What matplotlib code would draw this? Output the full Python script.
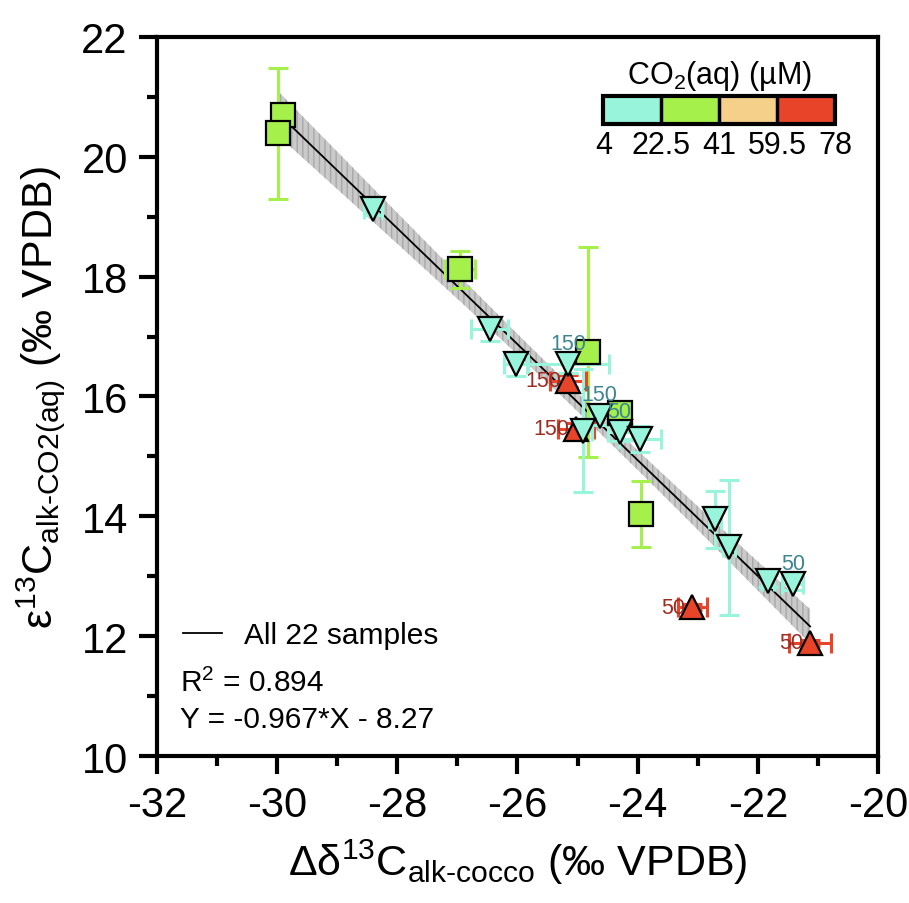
import matplotlib

matplotlib.use("Agg")
import matplotlib.pyplot as plt
import numpy as np
from matplotlib.colors import BoundaryNorm, ListedColormap
from matplotlib.ticker import MultipleLocator

plt.rcParams["font.family"] = ["Liberation Sans", "DejaVu Sans"]
plt.rcParams["mathtext.default"] = "regular"
plt.rcParams["axes.unicode_minus"] = False

# CO2(aq) bins
co2_bounds = [4, 22.5, 41, 59.5, 78]
co2_colors = ["#98F5DC", "#A6F04C", "#F5D08A", "#E8442A"]

# green squares (22.5-41 uM)
sq_x = [-29.91, -29.98, -26.96, -24.82, -24.30, -23.94]
sq_y = [20.70, 20.39, 18.12, 16.74, 15.73, 14.04]
sq_xerr = [0.05, 0.05, 0.25, 0.10, 0.10, 0.10]
sq_yerr = [0.05, 1.09, 0.31, 1.75, 0.10, 0.55]

# cyan down-triangles (4-22.5 uM)
tri_x = [-28.41, -26.46, -26.03, -25.16, -24.63, -24.91, -24.30, -23.96, -22.72, -22.48, -21.83, -21.42]
tri_y = [19.13, 17.13, 16.54, 16.54, 15.68, 15.43, 15.40, 15.29, 13.95, 13.48, 12.92, 12.87]
tri_xerr = [0.15, 0.31, 0.20, 0.69, 0.15, 0.15, 0.20, 0.35, 0.10, 0.10, 0.10, 0.18]
tri_yerr = [0.10, 0.20, 0.20, 0.15, 0.15, 1.03, 0.15, 0.22, 0.48, 1.12, 0.10, 0.10]
tri_labels = ["", "", "", "150", "150", "", "50", "", "", "", "", "50"]

# red up-triangles (59.5-78 uM)
red_x = [-25.16, -25.02, -23.09, -21.13]
red_y = [16.26, 15.46, 12.48, 11.89]
red_xerr = [0.30, 0.30, 0.24, 0.35]
red_yerr = [0.10, 0.10, 0.05, 0.05]
red_labels = ["150", "150", "50", "50"]

# linear fit reported in the figure
slope = -0.967
intercept = -8.27
r2 = 0.894
t_band = 1.325  # t(0.90, df=20), band width multiplier

fig = plt.figure(figsize=(9.09, 9.04), dpi=100)
ax = fig.add_axes([0.1727, 0.1626, 0.7932, 0.7954])

# fit line with confidence band
all_x = np.array(sq_x + tri_x + red_x)
all_y = np.array(sq_y + tri_y + red_y)
n = len(all_x)
resid = all_y - (slope * all_x + intercept)
s = np.sqrt(np.sum(resid**2) / (n - 2))
sxx = np.sum((all_x - all_x.mean()) ** 2)
xf = np.linspace(all_x.min(), all_x.max(), 200)
yf = slope * xf + intercept
ci = t_band * s * np.sqrt(1 / n + (xf - all_x.mean()) ** 2 / sxx)
ax.fill_between(xf, yf - ci, yf + ci, facecolor="#cacaca", edgecolor="#a8a8a8", hatch="|||", linewidth=0, zorder=1)
(fit_line,) = ax.plot(xf, yf, color="black", lw=1.3, zorder=2)

err_kw = dict(fmt="none", elinewidth=2.2, capsize=7.5, capthick=2.2, zorder=3)
mk_kw = dict(linestyle="none", markeredgecolor="black", markeredgewidth=1.6, zorder=4)

ax.errorbar(sq_x, sq_y, xerr=sq_xerr, yerr=sq_yerr, ecolor=co2_colors[1], **err_kw)
ax.plot(sq_x, sq_y, marker="s", markersize=17, markerfacecolor=co2_colors[1], **mk_kw)

ax.errorbar(red_x, red_y, xerr=red_xerr, yerr=red_yerr, ecolor=co2_colors[3], **err_kw)
ax.plot(red_x, red_y, marker="^", markersize=17, markerfacecolor=co2_colors[3], **mk_kw)

ax.errorbar(tri_x, tri_y, xerr=tri_xerr, yerr=tri_yerr, ecolor=co2_colors[0], **err_kw)
ax.plot(tri_x, tri_y, marker="v", markersize=17, markerfacecolor=co2_colors[0], **mk_kw)

for x, y, lab in zip(tri_x, tri_y, tri_labels):
    if lab:
        ax.annotate(lab, (x, y), xytext=(0, 15), textcoords="offset points",
                    ha="center", va="center", fontsize=15.5, color="#3D8591", zorder=5)
for x, y, lab in zip(red_x, red_y, red_labels):
    if lab:
        ax.annotate(lab, (x, y), xytext=(-5, 0), textcoords="offset points",
                    ha="right", va="center", fontsize=15.5, color="#9E2B22", zorder=5)

ax.set_xlim(-32, -20)
ax.set_ylim(10, 22)
ax.xaxis.set_major_locator(MultipleLocator(2))
ax.xaxis.set_minor_locator(MultipleLocator(1))
ax.yaxis.set_major_locator(MultipleLocator(2))
ax.yaxis.set_minor_locator(MultipleLocator(1))
ax.tick_params(which="major", length=13, width=3, labelsize=30, pad=8)
ax.tick_params(which="minor", length=7, width=3)
for sp in ax.spines.values():
    sp.set_linewidth(3)

ax.set_xlabel("Δδ$^{13}$C$_{alk‐cocco}$ (‰ VPDB)", fontsize=31, labelpad=8)
ax.set_ylabel("ε$^{13}$C$_{alk‐CO2(aq)}$ (‰ VPDB)", fontsize=31, labelpad=10)

leg = ax.legend([fit_line], ["All 22 samples"], loc="center left", bbox_to_anchor=(0.036, 0.168),
                frameon=False, fontsize=21.5, handlelength=1.3, handletextpad=0.75,
                borderpad=0, borderaxespad=0)
ax.text(0.032, 0.103, f"R$^2$ = {r2}", transform=ax.transAxes, fontsize=21.5, va="center")
ax.text(0.032, 0.051, f"Y = {slope}*X - {-intercept}", transform=ax.transAxes, fontsize=21.5, va="center")

# colour key
cax = ax.inset_axes([0.619, 0.879, 0.322, 0.039])
cmap = ListedColormap(co2_colors)
norm = BoundaryNorm(co2_bounds, cmap.N)
cb = fig.colorbar(plt.cm.ScalarMappable(norm=norm, cmap=cmap), cax=cax, orientation="horizontal",
                  ticks=co2_bounds, drawedges=True)
cb.outline.set_linewidth(3)
cb.dividers.set_linewidth(2.5)
cb.ax.tick_params(length=0, labelsize=22, pad=4)
cb.ax.set_xticklabels(["4", "22.5", "41", "59.5", "78"])
cb.ax.set_title("CO$_2$(aq) (µM)", fontsize=22, pad=9)

fig.savefig("out.png", dpi=100)
